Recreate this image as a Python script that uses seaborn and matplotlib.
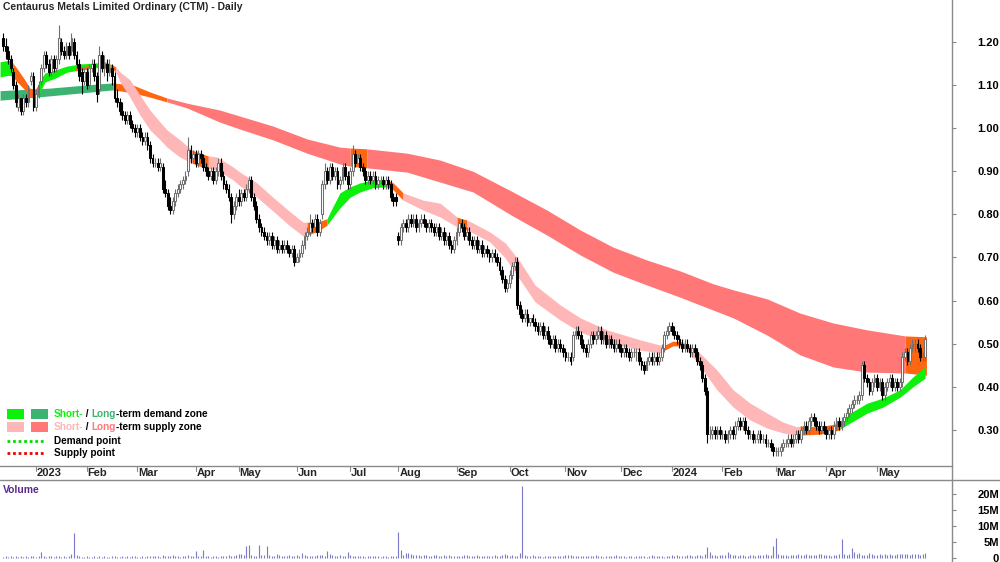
import numpy as np
import pandas as pd
import seaborn as sns
import matplotlib
matplotlib.use("Agg")
import matplotlib.pyplot as plt
from matplotlib.lines import Line2D
from matplotlib.patches import Rectangle
from matplotlib import transforms

TITLE = "Centaurus Metals Limited Ordinary (CTM) - Daily"

# daily OHLC in cents, 12 Dec 2022 .. 24 May 2024 (trading-day index)
opens = [
    121, 119, 118, 116, 113, 110, 105, 107, 104, 107,
    106, 111, 112, 105, 108, 111, 114, 117, 115, 113,
    116, 114, 116, 120, 118, 117, 119, 118, 120, 117,
    115, 113, 111, 113, 110, 114, 115, 112, 109, 117,
    114, 115, 113, 114, 112, 107, 106, 104, 103, 102,
    103, 101, 100, 99, 100, 98, 97, 98, 96, 93,
    92, 92, 91, 91, 86, 85, 82, 81, 83, 85,
    86, 87, 88, 90, 95, 93, 94, 92, 94, 93,
    91, 90, 89, 90, 88, 90, 92, 89, 87, 86,
    84, 80, 82, 84, 83, 85, 84, 86, 88, 84,
    82, 79, 77, 76, 75, 74, 75, 73, 74, 72,
    73, 72, 73, 72, 71, 72, 69, 70, 71, 73,
    75, 76, 78, 77, 79, 76, 80, 87, 90, 88,
    91, 89, 90, 87, 88, 91, 89, 87, 90, 94,
    92, 93, 91, 90, 88, 89, 88, 89, 87, 88,
    88, 87, 88, 87, 84, 84, 75, 74, 77, 78,
    77, 79, 78, 79, 77, 78, 79, 78, 77, 78,
    77, 76, 77, 75, 76, 74, 75, 73, 72, 74,
    76, 78, 77, 75, 76, 74, 73, 74, 72, 73,
    71, 72, 71, 70, 71, 70, 69, 67, 65, 63,
    64, 66, 68, 69, 59, 57, 56, 57, 55, 56,
    55, 54, 53, 54, 52, 53, 51, 50, 51, 49,
    50, 49, 48, 47, 47, 47, 52, 53, 52, 50,
    49, 48, 50, 52, 51, 52, 53, 51, 52, 50,
    51, 50, 49, 50, 49, 48, 49, 48, 47, 48,
    48, 48, 46, 45, 44, 46, 47, 46, 47, 46,
    47, 49, 52, 53, 54, 53, 52, 51, 50, 49,
    50, 49, 48, 49, 48, 46, 45, 42, 39, 29,
    29, 30, 29, 30, 29, 29, 28, 29, 30, 29,
    31, 32, 31, 32, 30, 29, 29, 28, 28, 29,
    28, 28, 27, 27, 26, 25, 25, 25, 26, 27,
    27, 28, 27, 28, 29, 28, 30, 31, 30, 32,
    33, 32, 31, 30, 31, 30, 29, 30, 29, 31,
    32, 31, 32, 33, 34, 35, 36, 37, 37, 38,
    45, 42, 41, 39, 41, 42, 40, 41, 38, 40,
    41, 42, 40, 41, 40, 41, 47, 48, 46, 49,
    50, 50, 49, 47, 47,
]
highs = [
    122, 121, 119, 117, 114, 111, 108, 107, 108, 108,
    110, 113, 113, 109, 111, 115, 118, 118, 116, 117,
    117, 117, 124, 121, 119, 120, 120, 122, 121, 118,
    116, 114, 114, 114, 115, 116, 116, 113, 119, 118,
    117, 116, 116, 115, 113, 109, 107, 106, 104, 104,
    104, 102, 101, 101, 101, 99, 99, 99, 97, 94,
    93, 93, 93, 92, 88, 86, 84, 84, 86, 87,
    88, 89, 90, 98, 96, 95, 95, 95, 95, 94,
    92, 91, 91, 91, 91, 93, 93, 90, 88, 87,
    85, 83, 85, 86, 86, 86, 87, 89, 89, 85,
    83, 80, 78, 77, 76, 76, 76, 75, 75, 74,
    74, 74, 74, 73, 73, 73, 71, 72, 74, 76,
    77, 80, 79, 80, 80, 79, 88, 92, 91, 92,
    92, 91, 91, 89, 92, 92, 90, 91, 96, 95,
    94, 94, 92, 91, 90, 90, 90, 90, 89, 89,
    89, 89, 89, 88, 85, 85, 76, 78, 79, 79,
    80, 80, 80, 80, 79, 80, 80, 79, 79, 79,
    78, 78, 78, 77, 77, 76, 76, 74, 75, 77,
    79, 79, 78, 77, 77, 75, 75, 75, 74, 74,
    73, 73, 72, 72, 72, 71, 70, 68, 66, 65,
    67, 69, 70, 70, 60, 58, 58, 58, 56, 57,
    56, 55, 55, 55, 54, 54, 52, 52, 52, 51,
    51, 50, 49, 48, 48, 53, 54, 54, 53, 51,
    50, 51, 53, 53, 53, 54, 54, 53, 53, 52,
    52, 51, 51, 51, 50, 50, 50, 49, 49, 49,
    49, 49, 47, 46, 47, 48, 48, 48, 48, 48,
    50, 53, 54, 55, 55, 54, 53, 52, 51, 51,
    51, 50, 50, 50, 49, 47, 46, 43, 40, 31,
    31, 31, 31, 31, 30, 30, 30, 31, 31, 32,
    33, 33, 33, 33, 31, 30, 30, 29, 30, 30,
    29, 29, 28, 28, 27, 26, 26, 27, 28, 28,
    29, 29, 29, 30, 30, 31, 32, 32, 33, 34,
    34, 33, 32, 32, 32, 31, 31, 31, 32, 33,
    33, 33, 34, 35, 36, 37, 38, 38, 39, 46,
    46, 43, 42, 42, 43, 43, 42, 42, 41, 42,
    43, 43, 42, 42, 42, 48, 49, 49, 50, 51,
    51, 51, 50, 48, 52,
]
lows = [
    118, 116, 115, 113, 109, 105, 104, 103, 103, 105,
    105, 110, 104, 104, 107, 110, 113, 114, 112, 112,
    113, 113, 115, 117, 116, 116, 116, 117, 116, 114,
    111, 108, 110, 109, 109, 113, 111, 106, 108, 113,
    112, 111, 112, 110, 106, 105, 103, 102, 101, 101,
    100, 99, 98, 98, 97, 96, 96, 95, 92, 91,
    91, 90, 90, 85, 84, 81, 80, 80, 82, 84,
    85, 86, 87, 89, 92, 92, 91, 91, 92, 90,
    89, 88, 88, 87, 87, 89, 88, 86, 85, 83,
    78, 79, 81, 82, 82, 83, 83, 85, 83, 81,
    78, 76, 75, 74, 73, 73, 72, 72, 71, 71,
    71, 71, 71, 70, 70, 68, 69, 69, 70, 72,
    74, 75, 76, 76, 75, 75, 79, 86, 87, 87,
    88, 88, 86, 86, 87, 88, 86, 86, 89, 91,
    92, 90, 89, 87, 87, 87, 87, 86, 86, 87,
    86, 86, 86, 83, 82, 82, 73, 73, 76, 76,
    76, 77, 77, 76, 76, 77, 77, 76, 76, 76,
    75, 75, 74, 74, 73, 73, 72, 71, 71, 73,
    75, 76, 74, 74, 73, 72, 72, 71, 71, 70,
    70, 70, 69, 69, 69, 68, 66, 64, 62, 62,
    63, 65, 67, 58, 56, 55, 55, 54, 54, 54,
    53, 52, 52, 51, 51, 50, 49, 49, 48, 48,
    48, 47, 46, 46, 45, 46, 51, 51, 49, 48,
    47, 47, 49, 50, 50, 51, 50, 50, 49, 49,
    49, 48, 48, 48, 47, 47, 47, 46, 46, 47,
    46, 45, 44, 43, 44, 45, 45, 45, 45, 45,
    46, 48, 51, 52, 52, 51, 50, 49, 48, 48,
    48, 47, 47, 47, 45, 44, 41, 38, 27, 28,
    28, 28, 28, 28, 28, 27, 27, 28, 28, 28,
    30, 30, 30, 29, 28, 28, 27, 27, 27, 27,
    27, 26, 26, 25, 24, 24, 24, 24, 25, 26,
    26, 26, 26, 27, 27, 27, 29, 29, 29, 31,
    31, 30, 29, 29, 29, 28, 28, 28, 28, 30,
    30, 30, 31, 32, 33, 34, 35, 36, 36, 37,
    41, 40, 38, 38, 40, 39, 39, 37, 37, 39,
    40, 39, 39, 39, 39, 40, 46, 45, 45, 48,
    48, 48, 46, 46, 46,
]
closes = [
    119, 118, 116, 114, 110, 106, 107, 104, 107, 106,
    109, 112, 105, 108, 110, 114, 117, 115, 113, 116,
    114, 116, 121, 118, 117, 119, 117, 121, 117, 115,
    112, 111, 113, 110, 114, 115, 112, 108, 117, 114,
    115, 113, 114, 112, 107, 106, 104, 103, 102, 103,
    101, 100, 99, 100, 98, 97, 98, 96, 93, 92,
    92, 91, 92, 86, 85, 82, 81, 83, 85, 86,
    87, 88, 89, 95, 93, 94, 92, 94, 93, 91,
    90, 89, 90, 88, 90, 92, 89, 87, 86, 84,
    80, 82, 84, 83, 85, 84, 86, 88, 84, 82,
    79, 77, 76, 75, 74, 75, 73, 74, 72, 73,
    72, 73, 72, 71, 72, 69, 70, 71, 73, 75,
    76, 78, 77, 79, 76, 78, 87, 90, 88, 91,
    89, 90, 87, 88, 91, 89, 87, 90, 94, 92,
    93, 91, 90, 88, 89, 88, 89, 87, 88, 88,
    87, 88, 87, 84, 83, 83, 74, 77, 78, 77,
    79, 78, 79, 77, 78, 79, 78, 77, 78, 77,
    76, 77, 75, 76, 74, 75, 73, 72, 74, 76,
    78, 77, 75, 76, 74, 73, 74, 72, 73, 71,
    72, 71, 70, 71, 70, 69, 67, 65, 63, 64,
    66, 68, 69, 59, 57, 56, 57, 55, 56, 55,
    54, 53, 54, 52, 53, 51, 50, 51, 49, 50,
    49, 48, 47, 47, 46, 52, 53, 52, 50, 49,
    48, 50, 52, 51, 52, 53, 51, 52, 50, 51,
    50, 49, 50, 49, 48, 49, 48, 47, 48, 48,
    48, 46, 45, 44, 46, 47, 46, 47, 46, 47,
    49, 52, 53, 54, 53, 52, 51, 50, 49, 50,
    49, 48, 49, 48, 46, 45, 42, 39, 29, 29,
    30, 29, 30, 29, 29, 28, 29, 30, 29, 31,
    32, 31, 32, 30, 29, 29, 28, 28, 29, 28,
    28, 27, 27, 26, 25, 25, 25, 26, 27, 27,
    28, 27, 28, 29, 28, 30, 31, 30, 32, 33,
    32, 31, 30, 31, 30, 29, 30, 29, 31, 32,
    31, 32, 33, 34, 35, 36, 37, 37, 38, 45,
    42, 41, 39, 41, 42, 40, 41, 38, 40, 41,
    42, 40, 41, 40, 41, 47, 48, 46, 49, 50,
    50, 49, 47, 47, 51,
]
# volume in units of 100k shares
volume = [
    4, 5, 3, 6, 4, 5, 3, 7, 4, 5,
    3, 6, 5, 4, 5, 19, 6, 4, 5, 7,
    4, 5, 6, 3, 5, 4, 6, 12, 78, 8,
    5, 3, 4, 6, 3, 4, 5, 3, 6, 4,
    5, 4, 3, 5, 6, 4, 3, 5, 4, 6,
    4, 5, 6, 4, 3, 5, 4, 6, 5, 7,
    5, 6, 4, 8, 7, 6, 5, 9, 6, 5,
    4, 6, 5, 9, 6, 7, 22, 5, 6, 25,
    6, 5, 4, 6, 5, 4, 7, 5, 6, 8,
    7, 6, 9, 11, 12, 8, 38, 40, 9, 7,
    6, 40, 10, 8, 37, 9, 7, 6, 12, 8,
    6, 5, 7, 8, 6, 5, 9, 7, 16, 8,
    6, 5, 7, 6, 8, 10, 9, 7, 22, 12,
    9, 7, 6, 8, 5, 7, 20, 8, 6, 5,
    7, 6, 5, 4, 6, 5, 7, 6, 5, 4,
    5, 6, 4, 5, 7, 6, 82, 25, 10, 15,
    15, 12, 9, 8, 10, 7, 8, 9, 6, 7,
    8, 9, 7, 6, 8, 7, 9, 6, 7, 5,
    7, 6, 8, 10, 7, 6, 5, 8, 6, 7,
    5, 6, 7, 5, 8, 6, 7, 9, 12, 8,
    6, 10, 5, 7, 15, 225, 9, 7, 6, 8,
    5, 6, 7, 4, 6, 5, 7, 6, 5, 6,
    7, 6, 8, 10, 9, 6, 5, 7, 6, 5,
    6, 5, 7, 6, 8, 5, 6, 4, 7, 6,
    5, 6, 8, 6, 5, 7, 4, 6, 5, 4,
    6, 5, 7, 5, 4, 6, 8, 5, 6, 7,
    5, 4, 6, 7, 8, 5, 9, 6, 7, 5,
    8, 9, 7, 6, 10, 8, 7, 12, 35, 18,
    9, 8, 7, 10, 8, 9, 20, 12, 8, 9,
    7, 9, 8, 6, 7, 8, 9, 7, 10, 8,
    9, 11, 8, 10, 39, 63, 14, 10, 9, 8,
    7, 9, 8, 10, 12, 9, 8, 11, 9, 10,
    8, 9, 11, 12, 10, 9, 8, 7, 9, 10,
    11, 58, 12, 10, 14, 30, 20, 12, 15, 9,
    10, 9, 15, 11, 8, 10, 12, 9, 13, 10,
    11, 10, 9, 12, 11, 14, 12, 13, 10, 12,
    11, 12, 10, 13, 15,
]

month_pos = [13, 33, 53, 76, 93, 116, 137, 156, 179, 200, 222, 244, 264, 284, 305, 325, 345]
month_labels = ["2023", "Feb", "Mar", "Apr", "May", "Jun", "Jul", "Aug", "Sep",
                "Oct", "Nov", "Dec", "2024", "Feb", "Mar", "Apr", "May"]
price_ticks = [0.30, 0.40, 0.50, 0.60, 0.70, 0.80, 0.90, 1.00, 1.10, 1.20]
vol_ticks = [0, 5, 10, 15, 20]
vol_labels = ["0", "5M", "10M", "15M", "20M"]

# ribbon edges (day index, upper, lower)
lt_demand = ([-1.2, 18.5, 38.3, 43.4], [1.087, 1.093, 1.103, 1.105], [1.065, 1.075, 1.086, 1.089])
lt_trans_1 = ([43.4, 51.3, 58, 64.7], [1.105, 1.100, 1.084, 1.070], [1.089, 1.082, 1.072, 1.061])
lt_supply_1 = ([64.7, 72.6, 85.6, 93.5, 106.5, 120, 133, 137],
               [1.070, 1.058, 1.042, 1.028, 1.005, 0.975, 0.956, 0.954],
               [1.061, 1.047, 1.014, 0.998, 0.973, 0.942, 0.917, 0.912])
lt_trans_2 = ([137, 143.7], [0.954, 0.952], [0.912, 0.908])
lt_supply_2 = ([143.7, 159.5, 172.5, 185.5, 201.3, 214.7, 227.8, 240.8, 254.2, 267.2,
                280.3, 288.2, 301.6, 314.6, 327.7, 341.1, 356.1],
               [0.952, 0.942, 0.926, 0.900, 0.852, 0.810, 0.764, 0.724, 0.694, 0.669,
                0.639, 0.625, 0.604, 0.571, 0.548, 0.532, 0.518],
               [0.908, 0.898, 0.875, 0.852, 0.796, 0.752, 0.706, 0.666, 0.636, 0.608,
                0.578, 0.560, 0.520, 0.474, 0.446, 0.434, 0.432])
lt_trans_3 = ([356.1, 364.5], [0.518, 0.516], [0.432, 0.427])

st_demand_1 = ([-1.2, 2.7, 3.9], [1.154, 1.158, 1.151], [1.119, 1.123, 1.119])
st_trans_1 = ([3.9, 5.9, 8.6, 10.6, 12.6, 13.8],
              [1.151, 1.135, 1.112, 1.093, 1.089, 1.100],
              [1.119, 1.105, 1.089, 1.072, 1.070, 1.077])
st_demand_2 = ([13.8, 14.6, 16.5, 20.5, 25.2, 30.4, 36.3, 40.2, 42.2],
               [1.100, 1.112, 1.128, 1.135, 1.144, 1.149, 1.151, 1.154, 1.149],
               [1.077, 1.084, 1.107, 1.116, 1.130, 1.135, 1.140, 1.142, 1.140])
st_trans_2 = ([28.5, 31, 34], [1.140, 1.142, 1.146], [1.133, 1.135, 1.139])
st_trans_3 = ([42.2, 43.4, 44.5], [1.149, 1.146, 1.142], [1.140, 1.136, 1.130])
st_supply_1 = ([44.5, 46.2, 50.1, 54, 58, 62, 64.7, 69.8, 74.6],
               [1.142, 1.130, 1.112, 1.077, 1.042, 1.014, 0.996, 0.973, 0.949],
               [1.130, 1.107, 1.072, 1.031, 0.996, 0.973, 0.956, 0.933, 0.919])
st_trans_4 = ([74.6, 77, 79.7, 81], [0.949, 0.944, 0.938, 0.936], [0.919, 0.913, 0.908, 0.907])
st_supply_2 = ([81, 84.4, 90.8, 93.5, 100.2, 106.5, 113.3, 118.4, 120],
               [0.936, 0.933, 0.910, 0.898, 0.873, 0.840, 0.806, 0.782, 0.782],
               [0.907, 0.903, 0.880, 0.866, 0.840, 0.808, 0.773, 0.750, 0.752])
st_trans_5 = ([120, 124, 127.9], [0.782, 0.782, 0.790], [0.752, 0.760, 0.775])
st_demand_3 = ([127.9, 129.1, 133, 137, 140.9, 146, 151.6],
               [0.790, 0.805, 0.850, 0.864, 0.873, 0.880, 0.880],
               [0.775, 0.785, 0.815, 0.840, 0.852, 0.862, 0.864])
st_trans_6 = ([151.6, 154, 157.9], [0.880, 0.873, 0.850], [0.864, 0.857, 0.833])
st_supply_3 = ([157.9, 165.8, 172.5, 179.2], [0.850, 0.833, 0.826, 0.794], [0.833, 0.810, 0.794, 0.771])
st_trans_7 = ([179.2, 181, 183.1], [0.794, 0.790, 0.787], [0.771, 0.767, 0.764])
st_supply_4 = ([183.1, 185.5, 192.2, 198.2, 204.1, 210, 219.9, 227.8, 238.4, 251.5, 260.5],
               [0.787, 0.780, 0.759, 0.734, 0.690, 0.636, 0.590, 0.560, 0.532, 0.509, 0.495],
               [0.764, 0.757, 0.736, 0.699, 0.648, 0.597, 0.555, 0.527, 0.504, 0.485, 0.478])
st_trans_8 = ([260.5, 264.5, 268.4], [0.495, 0.506, 0.504], [0.483, 0.495, 0.495])
st_supply_5 = ([268.4, 273.9, 281.8, 288.2, 294.9, 301.6, 307.9, 313.4, 314.6],
               [0.504, 0.485, 0.439, 0.393, 0.362, 0.339, 0.318, 0.307, 0.309],
               [0.495, 0.458, 0.393, 0.353, 0.323, 0.304, 0.293, 0.288, 0.288])
st_trans_9 = ([314.6, 322.5, 330.4], [0.309, 0.307, 0.316], [0.288, 0.290, 0.300])
st_demand_4 = ([330.4, 334.4, 341.1, 347.4, 354.1, 359.2, 364],
               [0.316, 0.339, 0.362, 0.374, 0.393, 0.423, 0.446],
               [0.302, 0.316, 0.339, 0.353, 0.376, 0.400, 0.420])

GREEN = "#0cf00c"
DKGREEN = "#3cb371"
PINK = "#ffb6b6"
RED = "#ff7777"
ORANGE = "#ff6611"
AXIS = "#8a8a8a"

sns.set_theme(style="white")
plt.rcParams["font.family"] = ["Liberation Sans", "DejaVu Sans"]
plt.rcParams["font.weight"] = "bold"

W, H = 1000, 562
fig = plt.figure(figsize=(10, 5.62), dpi=100)
ax = fig.add_axes([0, 96 / H, 952 / W, 466 / H])
axv = fig.add_axes([0, 0, 952 / W, 81 / H])

n = len(closes)
assert len(opens) == n and len(highs) == n and len(lows) == n and len(volume) == n

df = pd.DataFrame({"o": opens, "h": highs, "l": lows, "c": closes}) / 100.0
df["i"] = np.arange(n)
df["v"] = np.array(volume) / 10.0

# ribbons: long-term first, short-term on top
for seg, col in [(lt_demand, DKGREEN), (lt_trans_1, ORANGE), (lt_supply_1, RED),
                 (lt_trans_2, ORANGE), (lt_supply_2, RED), (lt_trans_3, ORANGE),
                 (st_demand_1, GREEN), (st_trans_1, ORANGE), (st_demand_2, GREEN),
                 (st_trans_2, ORANGE), (st_trans_3, ORANGE), (st_supply_1, PINK),
                 (st_trans_4, ORANGE), (st_supply_2, PINK), (st_trans_5, ORANGE),
                 (st_demand_3, GREEN), (st_trans_6, ORANGE), (st_supply_3, PINK),
                 (st_trans_7, ORANGE), (st_supply_4, PINK), (st_trans_8, ORANGE),
                 (st_supply_5, PINK), (st_trans_9, ORANGE), (st_demand_4, GREEN)]:
    xs, hi, lo = seg
    ax.fill_between(xs, lo, hi, color=col, lw=0, zorder=1)

# candles
up = df.c >= df.o
top = df[["h", "o", "c"]].max(axis=1)
bot = df[["l", "o", "c"]].min(axis=1)
ax.vlines(df.i[up], bot[up], top[up], color="#707070", lw=0.8, zorder=3)
ax.vlines(df.i[~up], bot[~up], top[~up], color="black", lw=0.8, zorder=3)
ax.bar(df.i[up], (df.c - df.o)[up], bottom=df.o[up], width=0.72, color="white",
       edgecolor="#707070", linewidth=0.75, zorder=4)
ax.bar(df.i[~up], (df.c - df.o)[~up], bottom=df.o[~up], width=0.72, color="black",
       edgecolor="black", linewidth=0.75, zorder=4)

xlim = (-1.22, 374.6)
ax.set_xlim(*xlim)
ax.set_ylim(0.2162, 1.2974)
ax.set_xticks([])
ax.yaxis.tick_right()
ax.set_yticks(price_ticks)
ax.set_yticklabels([f"{t:.2f}" for t in price_ticks], ha="right")
ax.tick_params(axis="y", direction="out", length=3, width=0.8, color=AXIS,
               pad=31, labelsize=8, labelcolor="black")
for s in ["left", "top", "right"]:
    ax.spines[s].set_visible(False)
ax.spines["bottom"].set_color(AXIS)
ax.spines["bottom"].set_linewidth(1)
ax.patch.set_alpha(0)

# volume panel
axv.vlines(df.i, 0, df.v, color="#7a7ac8", lw=0.8)
axv.set_xlim(*xlim)
axv.set_ylim(-1.25, 24.06)
axv.set_xticks([])
axv.yaxis.tick_right()
axv.set_yticks(vol_ticks)
axv.set_yticklabels(vol_labels, ha="right")
axv.tick_params(axis="y", direction="out", length=3, width=0.8, color=AXIS,
                pad=31, labelsize=8, labelcolor="black")
sns.despine(ax=axv, left=True, top=True, right=True, bottom=True)
axv.patch.set_alpha(0)
axv.text(3 / 952, (562 - 490) / 81, "Volume", transform=axv.transAxes,
         color="#5b2a8c", fontsize=7.5, fontweight="bold", va="center", ha="left")

# frame lines
fig.add_artist(Line2D([952 / W, 952 / W], [0, 1], transform=fig.transFigure, color=AXIS, lw=1))
fig.add_artist(Line2D([0, 1], [(H - 480) / H] * 2, transform=fig.transFigure, color=AXIS, lw=1))

# month labels in the date strip
tr = transforms.blended_transform_factory(ax.transData, fig.transFigure)
for p, lab in zip(month_pos, month_labels):
    fig.add_artist(Line2D([p, p], [(H - 466) / H, (H - 471) / H], transform=tr, color=AXIS, lw=0.8))
    fig.text(p + 0.4, (H - 473.5) / H, lab, transform=tr, fontsize=8, fontweight="bold",
             ha="left", va="center")

# title
fig.text(3 / W, 1 - 7 / H, TITLE, fontsize=7.5, fontweight="bold", ha="left", va="center")

# legend
def legend_line(y, parts):
    t = fig.text(54 / W, 1 - y / H, parts[0][0], color=parts[0][1], fontsize=7.2,
                 fontweight="bold", ha="left", va="center")
    for s, c in parts[1:]:
        t = ax.annotate(s, xy=(1, 0), xycoords=t, va="bottom", ha="left", color=c,
                        fontsize=7.2, fontweight="bold", annotation_clip=False)

fig.add_artist(Rectangle((7 / W, 1 - 419 / H), 17 / W, 10 / H, transform=fig.transFigure, color=GREEN, lw=0))
fig.add_artist(Rectangle((31 / W, 1 - 419 / H), 17 / W, 10 / H, transform=fig.transFigure, color=DKGREEN, lw=0))
fig.add_artist(Rectangle((7 / W, 1 - 432 / H), 17 / W, 10 / H, transform=fig.transFigure, color=PINK, lw=0))
fig.add_artist(Rectangle((31 / W, 1 - 432 / H), 17 / W, 10 / H, transform=fig.transFigure, color=RED, lw=0))
legend_line(414, [("Short-", GREEN), (" / ", "black"), ("Long", DKGREEN), ("-term demand zone", "black")])
legend_line(427, [("Short-", PINK), (" / ", "black"), ("Long", RED), ("-term supply zone", "black")])
fig.add_artist(Line2D([7 / W, 44 / W], [1 - 441 / H] * 2, transform=fig.transFigure,
                      color="#00dd00", lw=2, ls=(0, (1, 1))))
fig.add_artist(Line2D([7 / W, 44 / W], [1 - 453 / H] * 2, transform=fig.transFigure,
                      color="#ee0000", lw=2, ls=(0, (1, 1))))
legend_line(441, [("Demand point", "black")])
legend_line(453, [("Supply point", "black")])

fig.savefig("out.png", dpi=100)
